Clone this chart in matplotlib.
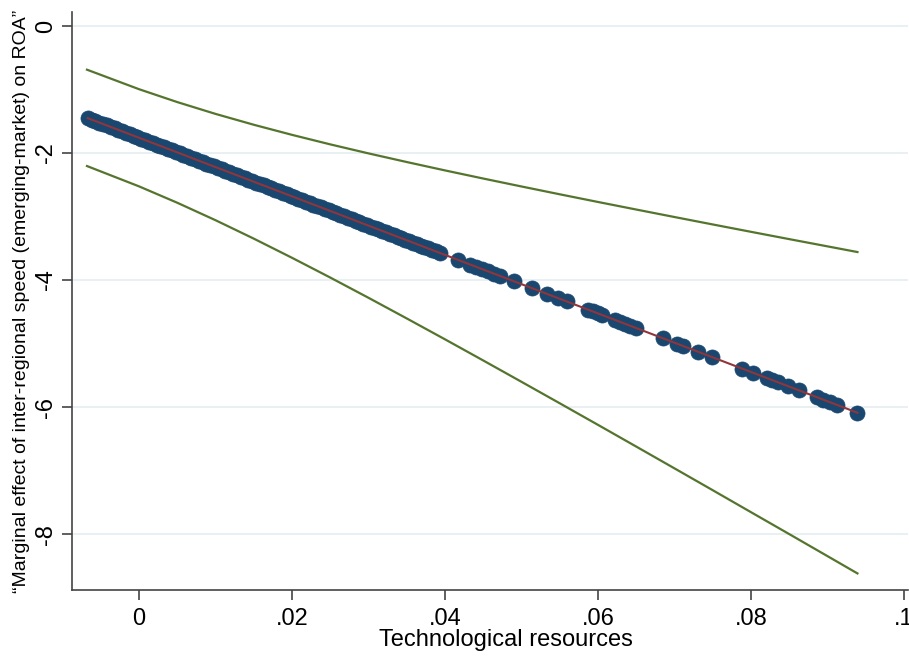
import matplotlib
matplotlib.use("Agg")
import matplotlib.pyplot as plt
import numpy as np

# Data
# observed values of technological resources (dense part + scattered tail)
tech = [
    -0.0067, -0.0062, -0.0057, -0.0052, -0.0047, -0.0042, -0.0037, -0.0032, -0.0027, -0.0022,
    -0.0017, -0.0012, -0.0007, -0.0002, 0.0003, 0.0008, 0.0013, 0.0018, 0.0023, 0.0028,
    0.0033, 0.0038, 0.0043, 0.0048, 0.0053, 0.0058, 0.0063, 0.0068, 0.0073, 0.0078,
    0.0083, 0.0088, 0.0093, 0.0098, 0.0103, 0.0108, 0.0113, 0.0118, 0.0123, 0.0128,
    0.0133, 0.0138, 0.0143, 0.0148, 0.0153, 0.0158, 0.0163, 0.0168, 0.0173, 0.0178,
    0.0183, 0.0188, 0.0193, 0.0198, 0.0203, 0.0208, 0.0213, 0.0218, 0.0223, 0.0228,
    0.0233, 0.0238, 0.0243, 0.0248, 0.0253, 0.0258, 0.0263, 0.0268, 0.0273, 0.0278,
    0.0283, 0.0288, 0.0293, 0.0298, 0.0303, 0.0308, 0.0313, 0.0318, 0.0323, 0.0328,
    0.0333, 0.0338, 0.0343, 0.0348, 0.0353, 0.0358, 0.0363, 0.0368, 0.0373, 0.0378,
    0.0383, 0.0388, 0.0393,
    0.0417, 0.0433, 0.0441, 0.0448, 0.0456, 0.0464, 0.0472, 0.0490, 0.0514, 0.0533,
    0.0548, 0.0559, 0.0587, 0.0593, 0.0600, 0.0605, 0.0622, 0.0629, 0.0635, 0.0642,
    0.0650, 0.0685, 0.0703, 0.0711, 0.0731, 0.0749, 0.0788, 0.0803, 0.0821, 0.0827,
    0.0835, 0.0848, 0.0863, 0.0886, 0.0894, 0.0903, 0.0912, 0.0939,
]

# marginal effect at each observation
effect = [
    -1.451, -1.474, -1.497, -1.520, -1.543, -1.566, -1.589, -1.612, -1.635, -1.658,
    -1.682, -1.705, -1.728, -1.751, -1.774, -1.797, -1.820, -1.843, -1.866, -1.889,
    -1.912, -1.935, -1.958, -1.981, -2.004, -2.027, -2.050, -2.074, -2.097, -2.120,
    -2.143, -2.166, -2.189, -2.212, -2.235, -2.258, -2.281, -2.304, -2.327, -2.350,
    -2.373, -2.396, -2.419, -2.442, -2.465, -2.488, -2.511, -2.535, -2.558, -2.581,
    -2.604, -2.627, -2.650, -2.673, -2.696, -2.719, -2.742, -2.765, -2.788, -2.811,
    -2.834, -2.857, -2.880, -2.903, -2.926, -2.949, -2.973, -2.996, -3.019, -3.042,
    -3.065, -3.088, -3.111, -3.134, -3.157, -3.180, -3.203, -3.226, -3.249, -3.272,
    -3.295, -3.318, -3.341, -3.364, -3.387, -3.410, -3.433, -3.457, -3.480, -3.503,
    -3.526, -3.549, -3.572,
    -3.682, -3.756, -3.793, -3.825, -3.862, -3.899, -3.936, -4.019, -4.130, -4.217,
    -4.286, -4.337, -4.466, -4.494, -4.526, -4.549, -4.627, -4.660, -4.687, -4.720,
    -4.757, -4.918, -5.001, -5.038, -5.130, -5.213, -5.393, -5.462, -5.545, -5.572,
    -5.609, -5.669, -5.738, -5.844, -5.881, -5.923, -5.964, -6.089,
]

# confidence band
ci_x = [-0.0068, 0.0, 0.005, 0.01, 0.015, 0.02, 0.025, 0.03, 0.035, 0.04, 0.045,
        0.05, 0.055, 0.06, 0.065, 0.07, 0.075, 0.08, 0.085, 0.09, 0.0939]
ci_upper = [-0.688, -0.995, -1.198, -1.384, -1.555, -1.714, -1.864, -2.006, -2.142, -2.274, -2.402,
            -2.527, -2.650, -2.771, -2.890, -3.008, -3.125, -3.241, -3.356, -3.470, -3.559]
ci_lower = [-2.205, -2.525, -2.783, -3.058, -3.348, -3.650, -3.961, -4.280, -4.605, -4.934, -5.267,
            -5.603, -5.941, -6.281, -6.623, -6.966, -7.310, -7.656, -8.001, -8.348, -8.619]

x_ticks = [0, 0.02, 0.04, 0.06, 0.08, 0.1]
x_labels = ["0", ".02", ".04", ".06", ".08", ".1"]
y_ticks = [0, -2, -4, -6, -8]
y_labels = ["0", "-2", "-4", "-6", "-8"]

plt.rcParams['font.family'] = ['Liberation Sans', 'DejaVu Sans']
plt.rcParams['axes.unicode_minus'] = False

fig = plt.figure(figsize=(9.09, 6.57), dpi=100)
ax = fig.add_axes([0.0792, 0.102, 0.9198, 0.8797])

navy = "#1A476F"
maroon = "#90353B"
green = "#55752F"

ax.plot(ci_x, ci_upper, color=green, lw=1.6, zorder=2)
ax.plot(ci_x, ci_lower, color=green, lw=1.6, zorder=2)
ax.scatter(tech, effect, s=118, color=navy, edgecolors=navy, linewidths=0.5, zorder=3)
ax.plot(tech, effect, color=maroon, lw=1.5, zorder=4)

ax.set_xlim(-0.00876, 0.10052)
ax.set_ylim(-8.88, 0.22)

ax.set_xticks(x_ticks)
ax.set_xticklabels(x_labels, fontsize=17)
ax.set_yticks(y_ticks)
ax.set_yticklabels(y_labels, fontsize=17, rotation=90, va="center")

ax.grid(axis="y", color="#E6EFF2", lw=1.3)
ax.set_axisbelow(True)

for side in ["top", "right"]:
    ax.spines[side].set_visible(False)
for side in ["left", "bottom"]:
    ax.spines[side].set_color("#444444")
    ax.spines[side].set_linewidth(1.2)

ax.tick_params(axis="both", direction="out", length=7, width=1.2, color="#444444")
ax.tick_params(axis="x", pad=6)
ax.tick_params(axis="y", pad=4)

ax.set_xlabel("Technological resources", fontsize=17)
ax.xaxis.set_label_coords(0.519, -0.067)
ax.set_ylabel("\u201cMarginal effect of inter-regional speed (emerging-market) on ROA\u201d", fontsize=14)
ax.yaxis.set_label_coords(-0.050, 0.5)

fig.savefig("out.png", dpi=100, facecolor="white")
